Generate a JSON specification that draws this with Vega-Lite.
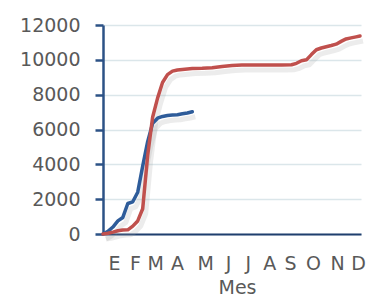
{
  "$schema": "https://vega.github.io/schema/vega-lite/v6.json",
  "width": 258,
  "height": 209,
  "autosize": "none",
  "padding": {"left": 103, "top": 25, "right": 7, "bottom": 65},
  "background": "white",
  "config": {
    "view": {"stroke": null},
    "font": "DejaVu Sans"
  },
  "datasets": {
    "series": [
      {"semana": 0, "valor": 0, "serie": "A"},
      {"semana": 1, "valor": 150, "serie": "A"},
      {"semana": 2, "valor": 400, "serie": "A"},
      {"semana": 3, "valor": 750, "serie": "A"},
      {"semana": 4, "valor": 950, "serie": "A"},
      {"semana": 5, "valor": 1750, "serie": "A"},
      {"semana": 6, "valor": 1850, "serie": "A"},
      {"semana": 7, "valor": 2400, "serie": "A"},
      {"semana": 8, "valor": 3900, "serie": "A"},
      {"semana": 9, "valor": 5300, "serie": "A"},
      {"semana": 10, "valor": 6350, "serie": "A"},
      {"semana": 11, "valor": 6650, "serie": "A"},
      {"semana": 12, "valor": 6750, "serie": "A"},
      {"semana": 13, "valor": 6800, "serie": "A"},
      {"semana": 14, "valor": 6830, "serie": "A"},
      {"semana": 15, "valor": 6850, "serie": "A"},
      {"semana": 16, "valor": 6900, "serie": "A"},
      {"semana": 17, "valor": 6950, "serie": "A"},
      {"semana": 18, "valor": 7020, "serie": "A"},
      {"semana": 0, "valor": 0, "serie": "B"},
      {"semana": 1, "valor": 40, "serie": "B"},
      {"semana": 2, "valor": 110, "serie": "B"},
      {"semana": 3, "valor": 190, "serie": "B"},
      {"semana": 4, "valor": 230, "serie": "B"},
      {"semana": 5, "valor": 240, "serie": "B"},
      {"semana": 6, "valor": 450, "serie": "B"},
      {"semana": 7, "valor": 750, "serie": "B"},
      {"semana": 8, "valor": 1450, "serie": "B"},
      {"semana": 9, "valor": 4500, "serie": "B"},
      {"semana": 10, "valor": 6700, "serie": "B"},
      {"semana": 11, "valor": 7800, "serie": "B"},
      {"semana": 12, "valor": 8700, "serie": "B"},
      {"semana": 13, "valor": 9150, "serie": "B"},
      {"semana": 14, "valor": 9350, "serie": "B"},
      {"semana": 15, "valor": 9420, "serie": "B"},
      {"semana": 16, "valor": 9450, "serie": "B"},
      {"semana": 18, "valor": 9500, "serie": "B"},
      {"semana": 20, "valor": 9510, "serie": "B"},
      {"semana": 22, "valor": 9550, "serie": "B"},
      {"semana": 24, "valor": 9620, "serie": "B"},
      {"semana": 26, "valor": 9680, "serie": "B"},
      {"semana": 28, "valor": 9700, "serie": "B"},
      {"semana": 32, "valor": 9700, "serie": "B"},
      {"semana": 36, "valor": 9700, "serie": "B"},
      {"semana": 38, "valor": 9720, "serie": "B"},
      {"semana": 39, "valor": 9800, "serie": "B"},
      {"semana": 40, "valor": 9950, "serie": "B"},
      {"semana": 41, "valor": 10000, "serie": "B"},
      {"semana": 42, "valor": 10300, "serie": "B"},
      {"semana": 43, "valor": 10580, "serie": "B"},
      {"semana": 44, "valor": 10680, "serie": "B"},
      {"semana": 45, "valor": 10750, "serie": "B"},
      {"semana": 46, "valor": 10820, "serie": "B"},
      {"semana": 47, "valor": 10900, "serie": "B"},
      {"semana": 48, "valor": 11060, "serie": "B"},
      {"semana": 49, "valor": 11200, "serie": "B"},
      {"semana": 50, "valor": 11260, "serie": "B"},
      {"semana": 51, "valor": 11320, "serie": "B"},
      {"semana": 51.8, "valor": 11370, "serie": "B"}
    ]
  },
  "data": {"name": "series"},
  "encoding": {
    "x": {
      "field": "semana",
      "type": "quantitative",
      "scale": {"domain": [0, 52], "nice": false, "zero": false},
      "axis": {
        "values": [2.2, 6.45, 10.5, 14.9, 20.6, 25.2, 29.2, 33.5, 37.7, 42.3, 47.2, 51.4],
        "labelExpr": "datum.value < 4 ? 'E' : datum.value < 8 ? 'F' : datum.value < 12 ? 'M' : datum.value < 17 ? 'A' : datum.value < 22 ? 'M' : datum.value < 27 ? 'J' : datum.value < 31 ? 'J' : datum.value < 35 ? 'A' : datum.value < 40 ? 'S' : datum.value < 45 ? 'O' : datum.value < 49 ? 'N' : 'D'",
        "title": "Mes",
        "grid": false,
        "ticks": false,
        "tickSize": 0,
        "domainColor": "#1f3f6e",
        "domainWidth": 2,
        "labelFont": "DejaVu Sans",
        "labelFontSize": 19,
        "labelColor": "#595959",
        "labelPadding": 20,
        "labelFlush": false,
        "labelOverlap": false,
        "titleFont": "DejaVu Sans",
        "titleFontSize": 19,
        "titleFontWeight": "normal",
        "titleColor": "#595959",
        "titlePadding": 5,
        "titleX": 134
      }
    },
    "y": {
      "field": "valor",
      "type": "quantitative",
      "scale": {"domain": [0, 12000], "nice": false},
      "axis": {
        "values": [0, 2000, 4000, 6000, 8000, 10000, 12000],
        "format": "d",
        "title": null,
        "grid": true,
        "gridColor": "#dbe6ea",
        "gridWidth": 1.5,
        "domainColor": "#2c5286",
        "domainWidth": 2.5,
        "tickColor": "#2c5286",
        "tickWidth": 2.5,
        "tickSize": 8,
        "labelFont": "DejaVu Sans",
        "labelFontSize": 19,
        "labelColor": "#595959",
        "labelPadding": 15
      }
    },
    "detail": {"field": "serie", "type": "nominal"}
  },
  "layer": [
    {
      "mark": {"type": "line", "color": "#a0a0a0", "strokeWidth": 5, "opacity": 0.2, "xOffset": 3, "yOffset": 5, "strokeJoin": "round"}
    },
    {
      "mark": {"type": "line", "strokeWidth": 3.5, "strokeJoin": "round", "strokeCap": "round"},
      "encoding": {
        "color": {
          "field": "serie",
          "type": "nominal",
          "scale": {"domain": ["A", "B"], "range": ["#2e5c9a", "#c0504d"]},
          "legend": null
        }
      }
    }
  ]
}
